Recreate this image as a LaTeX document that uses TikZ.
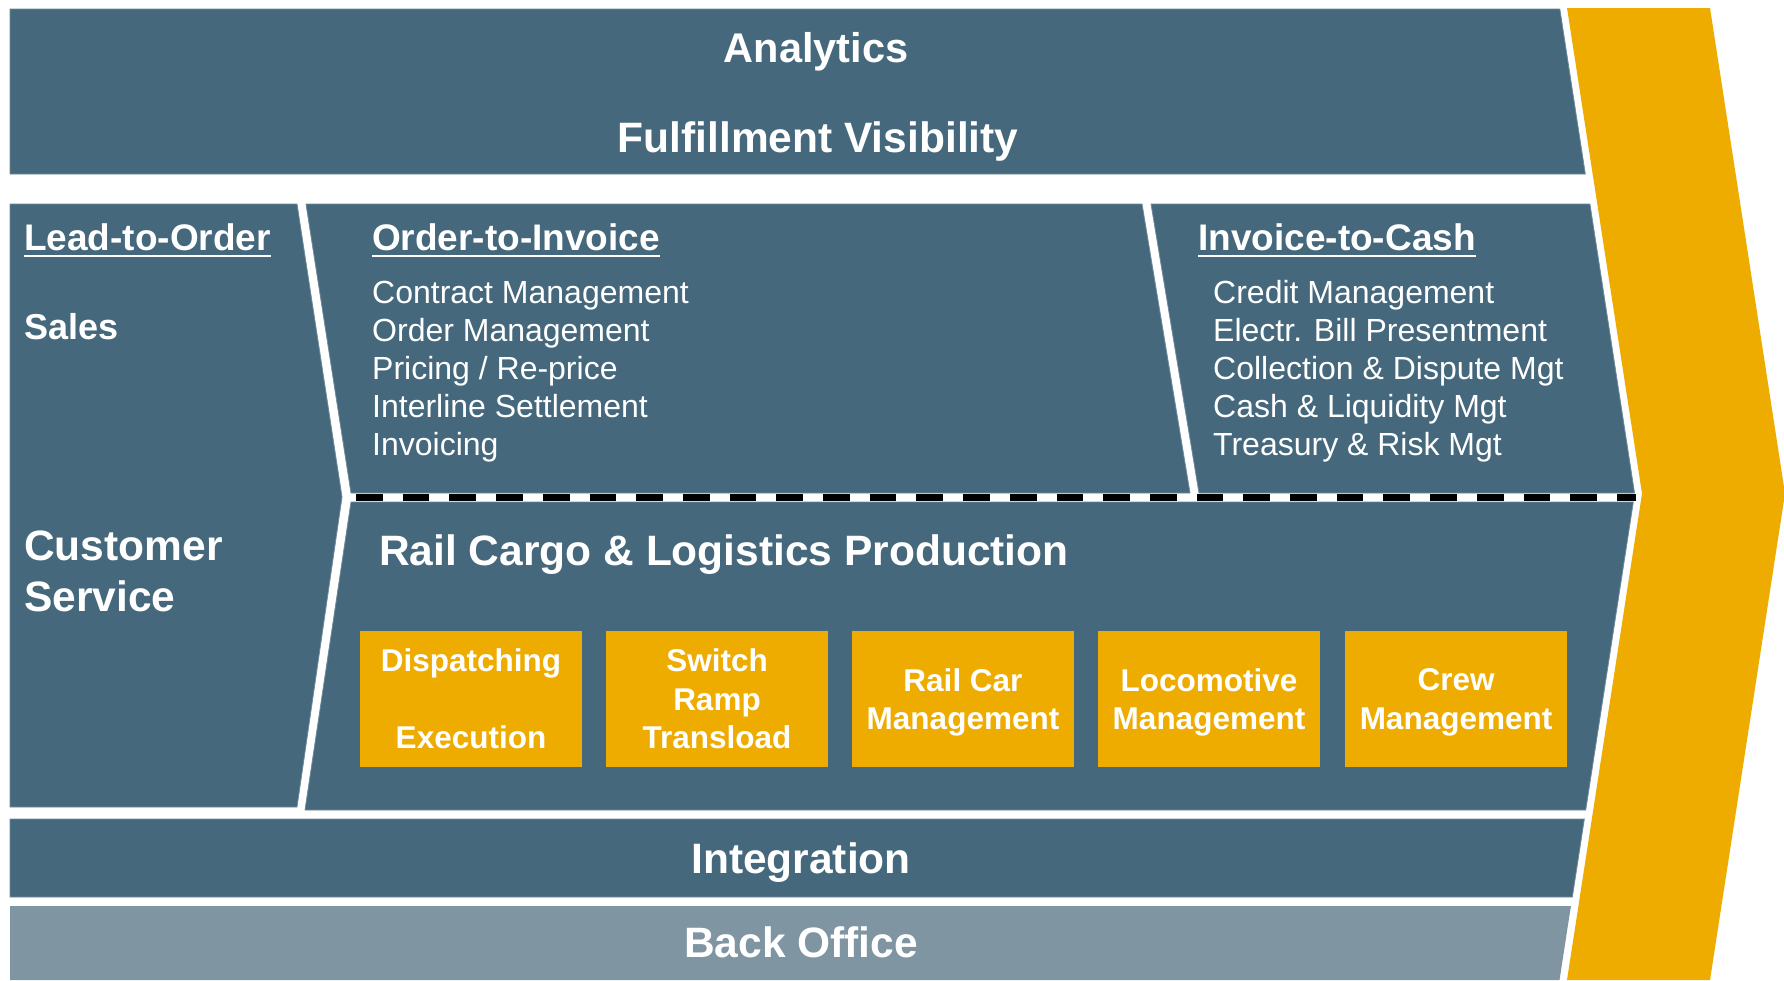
\documentclass[tikz,border=0pt]{standalone}
\usepackage{fontspec}
\setmainfont{Liberation Sans}
\definecolor{band}{HTML}{45687C}
\definecolor{bandedge}{HTML}{6E8B9B}
\definecolor{gold}{HTML}{EFAC00}
\definecolor{backoff}{HTML}{7F95A2}
\tikzset{
  bandshape/.style={fill=band, draw=bandedge, line width=0.8pt},
  big/.style={text=white, inner sep=0pt, font=\fontsize{42.5}{49}\selectfont\bfseries},
  ttl/.style={text=white, inner sep=0pt, anchor=base west, font=\fontsize{37}{44}\selectfont\bfseries},
  itm/.style={text=white, inner sep=0pt, anchor=base west, font=\fontsize{32}{38}\selectfont},
  obox/.style={fill=gold, text=white, minimum width=222pt, minimum height=136pt, inner sep=0pt, align=center, text depth=0pt, font=\fontsize{31.5}{38.5}\selectfont\bfseries},
  uline/.style={white, line width=2.5pt},
  dashline/.style={black, line width=7.3pt, dash pattern=on 26.7pt off 20pt},
}
\begin{document}
\begin{tikzpicture}[x=1pt,y=-1pt]
\useasboundingbox (0,0) rectangle (1784,980);
\fill[white] (0,0) rectangle (1784,980);

% chevron
\fill[gold] (1567,8) -- (1710,8) -- (1785,493.5) -- (1710,980) -- (1567,980) -- (1642,493.5) -- cycle;

% top band
\path[bandshape] (10,9) -- (1559.8,9) -- (1585.3,174) -- (10,174) -- cycle;
% left panel
\path[bandshape] (10,204) -- (297,204) -- (342,497) -- (297,807) -- (10,807) -- cycle;
% order-to-invoice
\path[bandshape] (306,204) -- (1142,204) -- (1190,493) -- (351,493) -- cycle;
% invoice-to-cash
\path[bandshape] (1151,204) -- (1589.9,204) -- (1634.5,493) -- (1199,493) -- cycle;
% rail cargo
\path[bandshape] (351,502) -- (1633.3,502) -- (1585.7,810) -- (305,810) -- cycle;
% integration
\path[bandshape] (10,819) -- (1584.3,819) -- (1572.3,897) -- (10,897) -- cycle;
% back office
\fill[backoff] (10,906) -- (1570.9,906) -- (1559.5,980) -- (10,980) -- cycle;

% dashed divider
\coordinate (dashL) at (356,497.5);
\coordinate (dashR) at (1636,497.5);
\draw[dashline] (dashL) -- (dashR);

% top texts
\node[big, anchor=base, font=\fontsize{41.5}{49}\selectfont\bfseries] (analytics) at (816,62) {Analytics};
\node[big, anchor=base] (fulfil) at (818,152) {Fulfillment Visibility};

% headings
\node[ttl] (l2o) at (24,250) {Lead-to-Order};
\draw[uline] ([yshift=-6pt]l2o.base west) -- ([yshift=-6pt]l2o.base east);
\node[ttl] (o2i) at (372,250) {Order-to-Invoice};
\draw[uline] ([yshift=-6pt]o2i.base west) -- ([yshift=-6pt]o2i.base east);
\node[ttl] (i2c) at (1198,250) {Invoice-to-Cash};
\draw[uline] ([yshift=-6pt]i2c.base west) -- ([yshift=-6pt]i2c.base east);

\node[ttl, font=\fontsize{36}{44}\selectfont\bfseries] (sales) at (24,339) {Sales};
\node[big, anchor=base west] (cs1) at (24,560) {Customer};
\node[big, anchor=base west] (cs2) at (24,611) {Service};

% lists
\foreach \t [count=\i] in {Contract Management, Order Management, Pricing / Re-price, Interline Settlement, Invoicing}
  \node[itm] (oi\i) at (372,{303+38*(\i-1)}) {\t};
\foreach \t [count=\i] in {Credit Management, Electr. Bill Presentment, Collection \& Dispute Mgt, Cash \& Liquidity Mgt, Treasury \& Risk Mgt}
  \node[itm] (ic\i) at (1213,{303+38*(\i-1)}) {\t};

% rail cargo
\node[big, anchor=base west] (rail) at (379,565) {Rail Cargo \& Logistics Production};
\node[obox] (b1) at (471,699) {Dispatching\\\mbox{}\\Execution};
\node[obox] (b2) at (717,699) {Switch\\Ramp\\Transload};
\node[obox] (b3) at (963,699) {Rail Car\\Management};
\node[obox] (b4) at (1209,699) {Locomotive\\Management};
\node[obox] (b5) at (1456,699) {Crew\\Management};

% bottom bands
\node[big, anchor=base] (integ) at (801,873) {Integration};
\node[big, anchor=base] (backo) at (801,957) {Back Office};
\end{tikzpicture}
\end{document}
